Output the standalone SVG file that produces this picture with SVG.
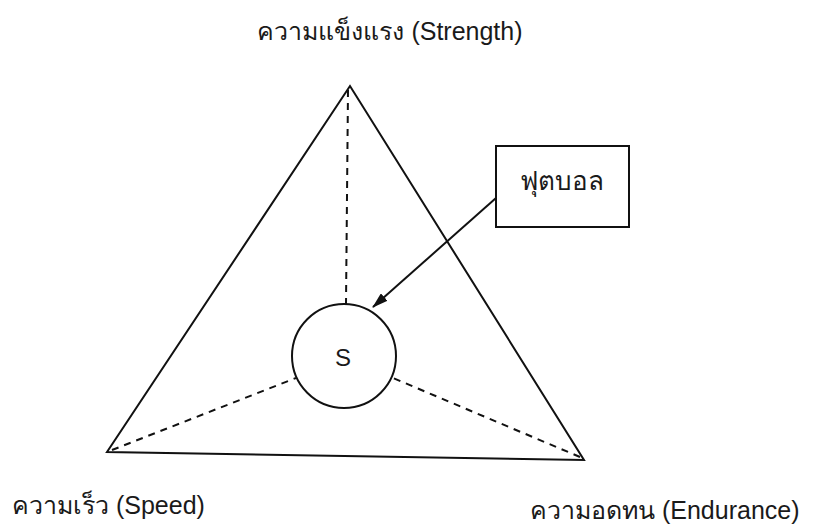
<svg xmlns="http://www.w3.org/2000/svg" width="818" height="528" viewBox="0 0 818 528">
<style>
text{font-family:"Liberation Sans","Noto Sans",sans-serif;fill:#1a1a1a}
.lbl{font-size:25px}
.solid{fill:none;stroke:#111;stroke-width:2}
.dash{fill:none;stroke:#111;stroke-width:2;stroke-dasharray:7,6}
</style>
<defs>
<marker id="arr" viewBox="0 0 16 10" refX="15" refY="5" markerWidth="16" markerHeight="10" markerUnits="userSpaceOnUse" orient="auto">
<path d="M0,0 L16,5 L0,10 z" fill="#111"/>
</marker>
</defs>
<rect width="818" height="528" fill="#fff"/>
<g id="triangle">
<polygon class="solid" points="350,86 107,452 584,460"/>
</g>
<g id="connectors">
<line class="dash" x1="348" y1="90" x2="346" y2="304"/>
<line class="dash" x1="112" y1="450" x2="296" y2="378"/>
<line class="dash" x1="580" y1="457" x2="393" y2="378"/>
<line class="solid" x1="496" y1="198" x2="373" y2="307" marker-end="url(#arr)"/>
</g>
<g id="circle-s">
<circle class="solid" cx="344" cy="356" r="52"/>
<text x="343" y="366" font-size="24" text-anchor="middle">S</text>
</g>
<g id="football">
<rect class="solid" x="496" y="146" width="133" height="81"/>
<text x="562" y="190" font-size="26" text-anchor="middle">ฟุตบอล</text>
</g>
<g id="label-strength">
<text class="lbl" x="390" y="40" text-anchor="middle">ความแข็งแรง (Strength)</text>
</g>
<g id="label-speed">
<text class="lbl" x="12" y="514">ความเร็ว (Speed)</text>
</g>
<g id="label-endurance">
<text class="lbl" x="530" y="519">ความอดทน (Endurance)</text>
</g>
</svg>
